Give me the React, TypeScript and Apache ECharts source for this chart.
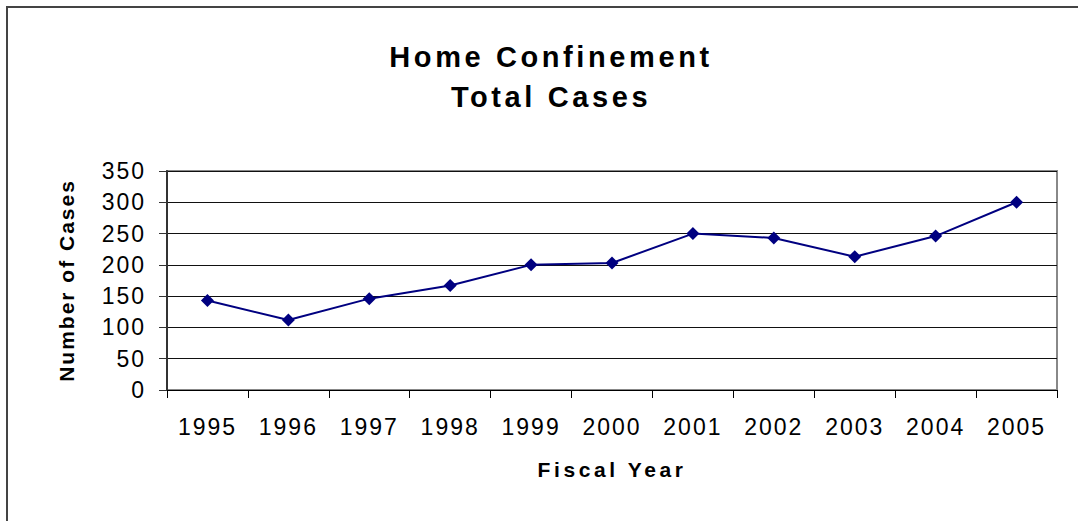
import React, { useEffect, useRef } from "react";
import * as echarts from "echarts";

const years = ["1995", "1996", "1997", "1998", "1999", "2000", "2001", "2002", "2003", "2004", "2005"];
const totalCases = [143, 112, 146, 167, 200, 203, 250, 243, 213, 246, 300];
const titleLines = ["Home Confinement", "Total Cases"];
const xAxisName = "Fiscal Year";
const yAxisName = "Number of Cases";

const FONT = "'Liberation Sans', Arial, Helvetica, sans-serif";

export default function App() {
  const ref = useRef<HTMLDivElement>(null);
  useEffect(() => {
    document.body.style.margin = "0";
    const chart = echarts.init(ref.current!, null, { renderer: "svg" });
    chart.setOption({
      animation: false,
      backgroundColor: "#fff",
      title: {
        text: titleLines.join("\n"),
        left: 546,
        top: 32,
        textAlign: "center",
        textStyle: {
          fontFamily: FONT,
          fontSize: 29,
          fontWeight: "bold",
          color: "#000",
          lineHeight: 40,
        },
      },
      graphic: [
        {
          type: "rect",
          z: -10,
          shape: { x: 7, y: 7, width: 1200, height: 700 },
          style: { fill: "none", stroke: "#444", lineWidth: 2 },
        },
      ],
      grid: {
        left: 167,
        right: 21,
        top: 171,
        bottom: 131,
        show: true,
        borderColor: "#888",
        borderWidth: 2,
        backgroundColor: "transparent",
      },
      xAxis: {
        type: "category",
        data: years,
        boundaryGap: true,
        name: xAxisName,
        nameLocation: "middle",
        nameGap: 69,
        nameTextStyle: { fontFamily: FONT, fontSize: 21, fontWeight: "bold", color: "#000" },
        axisLine: { lineStyle: { color: "#000", width: 1 } },
        axisTick: { show: true, length: 8, alignWithLabel: false, lineStyle: { color: "#000" } },
        axisLabel: { fontFamily: FONT, fontSize: 23, color: "#000", margin: 25 },
        splitLine: { show: false },
      },
      yAxis: {
        type: "value",
        min: 0,
        max: 350,
        interval: 50,
        name: yAxisName,
        nameLocation: "middle",
        nameGap: 90,
        nameTextStyle: { fontFamily: FONT, fontSize: 21, fontWeight: "bold", color: "#000" },
        axisLine: { show: true, lineStyle: { color: "#333", width: 2 } },
        axisTick: { show: true, length: 8, lineStyle: { color: "#333" } },
        axisLabel: { fontFamily: FONT, fontSize: 23, color: "#000", margin: 21 },
        splitLine: { show: true, lineStyle: { color: "#111", width: 1 } },
      },
      series: [
        {
          type: "line",
          data: totalCases,
          symbol: "diamond",
          symbolSize: 13,
          lineStyle: { color: "#000080", width: 2 },
          itemStyle: { color: "#000080" },
        },
      ],
    });
    const texts = ref.current!.querySelectorAll("text");
    texts.forEach((t) => {
      const s = (t.textContent || "").trim();
      let sp = 2;
      if (titleLines.includes(s)) sp = 3.6;
      else if (s === xAxisName) sp = 3.6;
      else if (s === yAxisName) sp = 2;
      (t as SVGTextElement).style.letterSpacing = sp + "px";
    });
    return () => chart.dispose();
  }, []);
  return <div ref={ref} style={{ width: 1078, height: 521 }} />;
}
